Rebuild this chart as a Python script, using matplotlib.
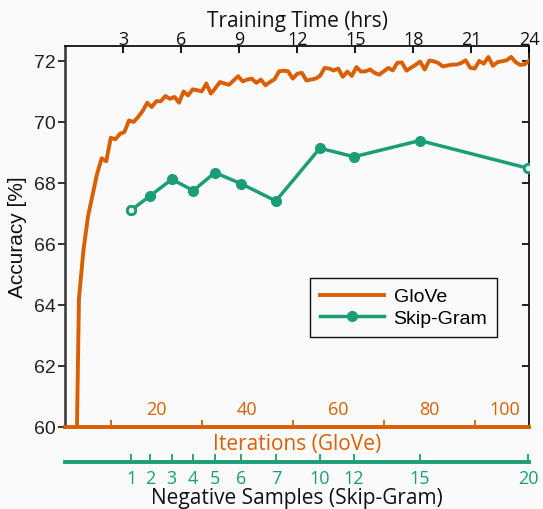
import matplotlib
matplotlib.use('Agg')
import matplotlib.pyplot as plt

# GloVe accuracy per iteration
glove_iter = list(range(2, 103))
glove_acc = [54.5, 64.2, 65.8, 66.9, 67.6, 68.3, 68.8, 68.7, 69.47, 69.42,
             69.6, 69.66, 70.04, 69.99, 70.15, 70.35, 70.62, 70.48, 70.67, 70.67,
             70.84, 70.75, 70.81, 70.62, 70.99, 70.86, 71.06, 71.03, 70.99, 71.25,
             70.92, 71.1, 71.3, 71.25, 71.21, 71.35, 71.49, 71.32, 71.38, 71.41,
             71.27, 71.38, 71.19, 71.3, 71.39, 71.65, 71.67, 71.65, 71.41, 71.57,
             71.6, 71.35, 71.38, 71.41, 71.5, 71.76, 71.74, 71.68, 71.74, 71.47,
             71.64, 71.5, 71.79, 71.64, 71.65, 71.71, 71.6, 71.54, 71.65, 71.76,
             71.68, 71.93, 71.94, 71.67, 71.77, 71.86, 71.97, 71.71, 72.0, 71.98,
             71.92, 71.81, 71.84, 71.87, 71.87, 71.92, 72.01, 71.77, 71.74, 71.99,
             71.9, 72.12, 71.83, 71.95, 71.98, 72.01, 72.12, 71.95, 71.86, 71.88,
             72.01]

# Skip-Gram: training time (hrs), accuracy, negative samples
sg_time = [3.41, 4.39, 5.51, 6.62, 7.74, 9.11, 10.89, 13.17, 14.93, 18.34, 23.95]
sg_acc = [67.10, 67.57, 68.11, 67.74, 68.33, 67.96, 67.40, 69.13, 68.85, 69.38, 68.47]
neg_samples = ['1', '2', '3', '4', '5', '6', '7', '10', '12', '15', '20']

time_ticks = [3, 6, 9, 12, 15, 18, 21, 24]
iter_labels = [20, 40, 60, 80, 100]
iter_minor = [10, 30, 50, 70, 90]
y_ticks = [60, 62, 64, 66, 68, 70, 72]

orange = '#D95F02'
green = '#1B9E77'
bg = '#FAFAFA'
lab_font = 'Open Sans'
num_font = 'Liberation Sans'

fig = plt.figure(figsize=(5.43, 5.10), dpi=100, facecolor=bg)
L, W = 65.3/543, 464/543
B, H = 1-427.7/510, 380.4/510
ax = fig.add_axes([L, B, W, H], facecolor=bg)

ax.plot(glove_iter, glove_acc, color=orange, lw=2.8, label='GloVe', zorder=3)
ax.set_xlim(0, 102)
ax.set_ylim(60, 72.47)

ax.set_yticks(y_ticks)
ax.set_yticklabels([str(v) for v in y_ticks], fontsize=14, family=num_font, color='#222222')
ax.tick_params(axis='y', direction='out', length=5, width=1.3, color='#222222', pad=2)
ax.set_ylabel('Accuracy [%]', fontsize=15, family=num_font, color='#111111', labelpad=5)

# iterations axis (bottom spine, labels inside)
ax.set_xticks(iter_labels)
ax.set_xticklabels([str(v) for v in iter_labels], fontsize=13, family=lab_font, color=orange)
ax.set_xticks(iter_minor, minor=True)
ax.tick_params(axis='x', which='major', length=0, pad=-19)
ax.tick_params(axis='x', which='minor', direction='in', length=5, width=1.3, color=orange)
ax.get_xticklabels()[-1].set_horizontalalignment('right')
ax.set_xlabel('Iterations (GloVe)', fontsize=15, family=lab_font, color=orange, labelpad=1)

for s in ['top', 'right']:
    ax.spines[s].set_linewidth(1.3)
    ax.spines[s].set_color('#111111')
ax.spines['left'].set_linewidth(1.8)
ax.spines['left'].set_color('#333333')
ax.spines['bottom'].set_linewidth(2.8)
ax.spines['bottom'].set_color(orange)

# right-side inner ticks
ry = ax.secondary_yaxis('right')
ry.set_yticks(y_ticks[1:])
ry.tick_params(direction='in', length=5, width=1.3, labelright=False, color='#111111')
ry.spines['right'].set_visible(False)

# training time axis (top)
ax2 = ax.twiny()
ax2.plot(sg_time, sg_acc, color=green, lw=2.5, marker='o', ms=7, label='Skip-Gram', zorder=4)
ax2.plot([sg_time[0], sg_time[-1]], [sg_acc[0], sg_acc[-1]], ls='none', marker='o', ms=6,
         mfc='#e8f5f0', mec=green, mew=2, zorder=5)
ax2.set_xlim(0, 24)
ax2.set_xticks(time_ticks)
ax2.set_xticklabels([str(v) for v in time_ticks], fontsize=13, family=lab_font, color='#111111')
ax2.tick_params(axis='x', direction='in', length=5, width=1.3, pad=-1)
ax2.set_xlabel('Training Time (hrs)', fontsize=15, family=lab_font, color='#111111', labelpad=3)
for s in ['bottom', 'left', 'right', 'top']:
    ax2.spines[s].set_visible(False)

h1, l1 = ax.get_legend_handles_labels()
h2, l2 = ax2.get_legend_handles_labels()
leg = ax2.legend(h1 + h2, l1 + l2, loc='upper left', bbox_to_anchor=(310/543, 1-279/510),
                 bbox_transform=fig.transFigure, borderaxespad=0, fancybox=False,
                 edgecolor='#111111', facecolor=bg, framealpha=1,
                 prop={'family': num_font, 'size': 14}, handlelength=3.3,
                 borderpad=0.5, labelspacing=0.2, handletextpad=0.5)
leg.get_frame().set_linewidth(1.0)

# negative samples axis
ax3 = fig.add_axes([L, 1-463.3/510, W, 0.0001], facecolor='none')
ax3.set_xlim(0, 24)
ax3.set_yticks([])
for s in ['left', 'right', 'top']:
    ax3.spines[s].set_visible(False)
ax3.spines['bottom'].set_linewidth(2.8)
ax3.spines['bottom'].set_color(green)
ax3.set_xticks(sg_time)
ax3.set_xticklabels(neg_samples, fontsize=13, family=lab_font, color=green)
ax3.tick_params(axis='x', direction='in', length=6, width=1.3, color=green, pad=5)
ax3.set_xlabel('Negative Samples (Skip-Gram)', fontsize=15, family=lab_font, color='#111111', labelpad=0)

fig.savefig('out.png', dpi=100, facecolor=bg)
